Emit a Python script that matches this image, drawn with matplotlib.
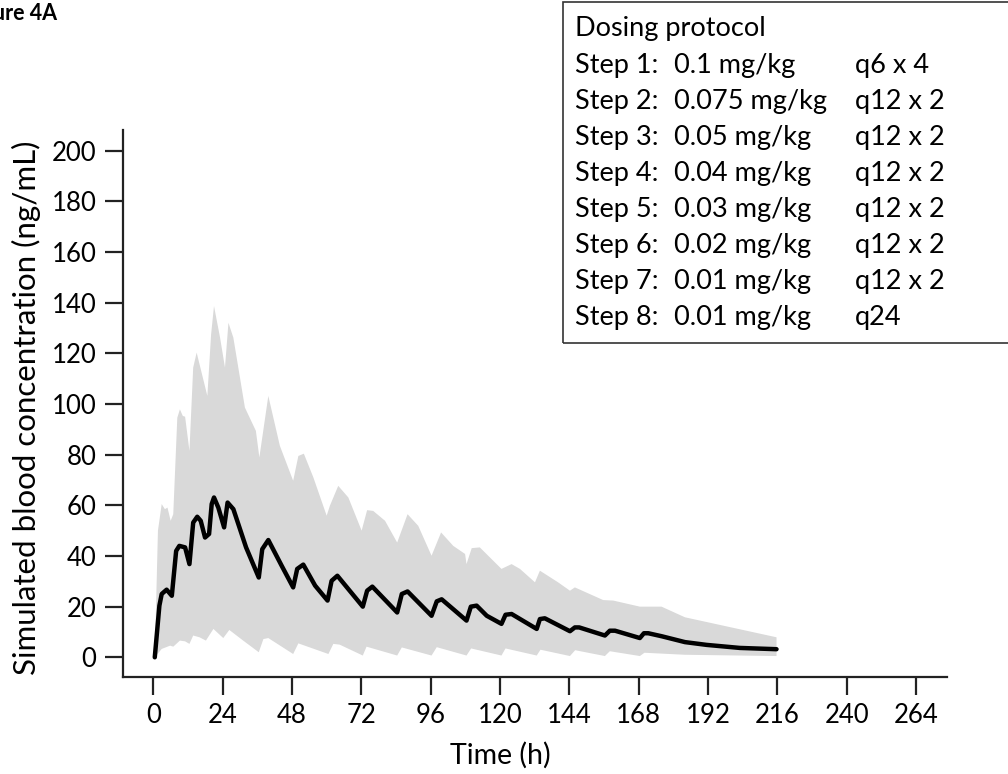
import numpy as np
from matplotlib import pyplot as plt
import matplotlib.patches as patches

plt.rcParams['font.family'] = ['Lato', 'DejaVu Sans']

# median concentration profile (h, ng/mL)
med_t = [0.5, 2.1, 2.9, 4.6, 6.4, 7.9, 9.0, 11.0, 12.5, 13.8, 15.2, 16.4, 17.9, 19.3,
         20.2, 21.0, 22.5, 24.5, 25.7, 27.7, 32.1, 36.5, 37.7, 39.8, 44.4, 48.4, 49.8,
         51.9, 56.0, 60.3, 61.7, 63.7, 72.5, 74.0, 75.8, 84.4, 86.0, 88.0, 96.3, 98.1,
         99.8, 108.4, 109.9, 111.9, 115.4, 120.5, 121.9, 124.0, 132.7, 133.8, 135.5,
         144.2, 145.9, 147.4, 156.3, 158.0, 159.8, 168.4, 169.8, 171.3, 176.0, 184.0,
         191.5, 203.0, 215.7]
med_c = [0, 20.4, 25.0, 26.7, 24.3, 42.0, 44.0, 43.4, 36.8, 53.2, 55.5, 53.9, 47.3, 48.7,
         60.5, 63.1, 59.1, 51.3, 61.1, 58.5, 43.4, 31.5, 42.7, 46.3, 36.2, 27.6, 34.9,
         36.6, 28.3, 22.4, 30.2, 32.2, 20.0, 26.3, 27.9, 17.7, 25.0, 26.0, 16.4, 22.1,
         22.9, 14.5, 20.0, 20.4, 16.4, 13.2, 16.8, 17.1, 11.2, 15.1, 15.4,
         10.3, 11.8, 11.8, 8.6, 10.5, 10.5, 7.6, 9.5, 9.5, 8.3, 6.0,
         4.9, 3.7, 3.2]

# upper edge of the prediction band
up_t = [0.5, 1.6, 2.9, 4.0, 4.9, 6.0, 6.9, 8.3, 9.2, 10.2, 11.0, 12.5, 13.8, 15.0, 18.7,
        20.0, 21.0, 23.1, 24.8, 26.0, 27.7, 31.7, 35.5, 36.7, 39.8, 43.8, 48.4, 50.2,
        52.1, 55.4, 60.0, 61.1, 64.0, 67.5, 72.1, 74.0, 76.1, 80.2, 84.4, 88.0, 91.7,
        96.3, 99.6, 103.8, 107.9, 108.4, 110.2, 113.0, 120.5, 124.0, 126.9, 132.1,
        133.8, 140.1, 144.2, 145.9, 155.7, 159.2, 168.4, 175.9, 184.0, 215.7]
up_c = [0, 50.0, 60.5, 58.5, 59.1, 53.9, 56.5, 94.6, 97.9, 95.3, 95.0, 81.5, 114.4, 120.3,
        103.2, 127.5, 138.7, 126.2, 114.4, 132.1, 126.2, 98.6, 89.4, 78.9, 103.2, 83.5,
        69.7, 79.5, 80.4, 71.0, 55.9, 59.8, 67.7, 63.1, 50.0, 58.1, 57.8, 53.9, 45.3,
        56.5, 51.9, 40.1, 49.3, 44.0, 40.8, 36.8, 43.1, 43.4, 34.9, 36.8, 34.9, 29.6,
        34.2, 29.6, 26.3, 27.6, 22.6, 22.4, 20.0, 20.0, 15.8, 7.9]

# lower edge of the prediction band
lo_t = [0.5, 2.9, 5.8, 6.9, 9.2, 11.0, 12.5, 13.8, 16.0, 18.2, 20.8, 24.2, 26.3, 31.1,
        36.5, 38.1, 39.8, 48.4, 50.2, 60.6, 62.3, 64.5, 72.5, 73.8, 84.4, 86.0, 96.3,
        98.1, 108.4, 110.0, 120.5, 121.9, 132.7, 134.0, 144.2, 146.0, 156.3, 158.0,
        168.4, 170.0, 184.0, 215.7]
lo_c = [0, 3.3, 4.6, 4.2, 6.6, 6.3, 5.3, 8.6, 7.9, 6.6, 11.2, 7.6, 10.8, 6.6,
        2.0, 7.2, 7.6, 1.3, 5.5, 1.3, 5.3, 5.0, 0.7, 4.2, 0.7, 3.9, 0.7,
        4.0, 0.7, 3.5, 0.7, 3.5, 0.7, 3.0, 0.5, 2.8, 0.5, 2.4,
        0.5, 1.8, 1.0, 0.5]

x_ticks = [0, 24, 48, 72, 96, 120, 144, 168, 192, 216, 240, 264]
y_ticks = [0, 20, 40, 60, 80, 100, 120, 140, 160, 180, 200]

steps = ['Step 1:', 'Step 2:', 'Step 3:', 'Step 4:', 'Step 5:', 'Step 6:', 'Step 7:', 'Step 8:']
doses = ['0.1 mg/kg', '0.075 mg/kg', '0.05 mg/kg', '0.04 mg/kg', '0.03 mg/kg',
         '0.02 mg/kg', '0.01 mg/kg', '0.01 mg/kg']
freqs = ['q6 x 4', 'q12 x 2', 'q12 x 2', 'q12 x 2', 'q12 x 2', 'q12 x 2', 'q12 x 2', 'q24']

W, H = 1008, 774
ax_l, ax_r, ax_t, ax_b = 122.7, 946.7, 130, 676.7   # axes box in pixels
fig = plt.figure(figsize=(W / 100, H / 100), dpi=100)
ax = fig.add_axes([ax_l / W, 1 - ax_b / H, (ax_r - ax_l) / W, (ax_b - ax_t) / H])

band_x = np.r_[up_t, lo_t[::-1]]
band_y = np.r_[up_c, lo_c[::-1]]
ax.fill(band_x, band_y, color='#d9d9d9', lw=0)
ax.plot(med_t, med_c, color='black', lw=3.2, solid_joinstyle='round', solid_capstyle='round')

ax.set_xlim(-10.6, 274.6)
ax.set_ylim(-7.66, 208.2)
ax.set_xticks(x_ticks)
ax.set_yticks(y_ticks)
for s in ['top', 'right']:
    ax.spines[s].set_visible(False)
for s in ['left', 'bottom']:
    ax.spines[s].set_linewidth(1.6)
    ax.spines[s].set_color('#222222')
ax.tick_params(length=13, width=1.6, color='#222222', labelsize=18.5, pad=6)

ax.set_ylabel('Simulated blood concentration (ng/mL)', fontsize=22.5)
ax.yaxis.set_label_coords((41 - ax_l) / (ax_r - ax_l), (ax_b - 408) / (ax_b - ax_t))
fig.text(500 / W, 1 - 755 / H, 'Time (h)', fontsize=20.5, ha='center', va='center')

fig.text(56.7 / W, 1 - 20 / H, 'Figure 4A', fontsize=15.5, fontweight='bold',
         ha='right', va='baseline')

# dosing protocol box in the upper right corner
box = patches.Rectangle((563.3 / W, 1 - 342.7 / H), 0.6, 341 / H, transform=fig.transFigure,
                        fill=False, edgecolor='#333333', lw=1.2, clip_on=False)
fig.patches.append(box)
fs = 19.5
fig.text(575 / W, 1 - 36 / H, 'Dosing protocol', fontsize=fs, va='baseline')
for i in range(len(steps)):
    yb = 1 - (72.7 + 36.05 * i) / H
    fig.text(575 / W, yb, steps[i], fontsize=fs, va='baseline')
    fig.text(674.3 / W, yb, doses[i], fontsize=fs, va='baseline')
    fig.text(855 / W, yb, freqs[i], fontsize=fs, va='baseline')

fig.savefig('out.png', dpi=100)
